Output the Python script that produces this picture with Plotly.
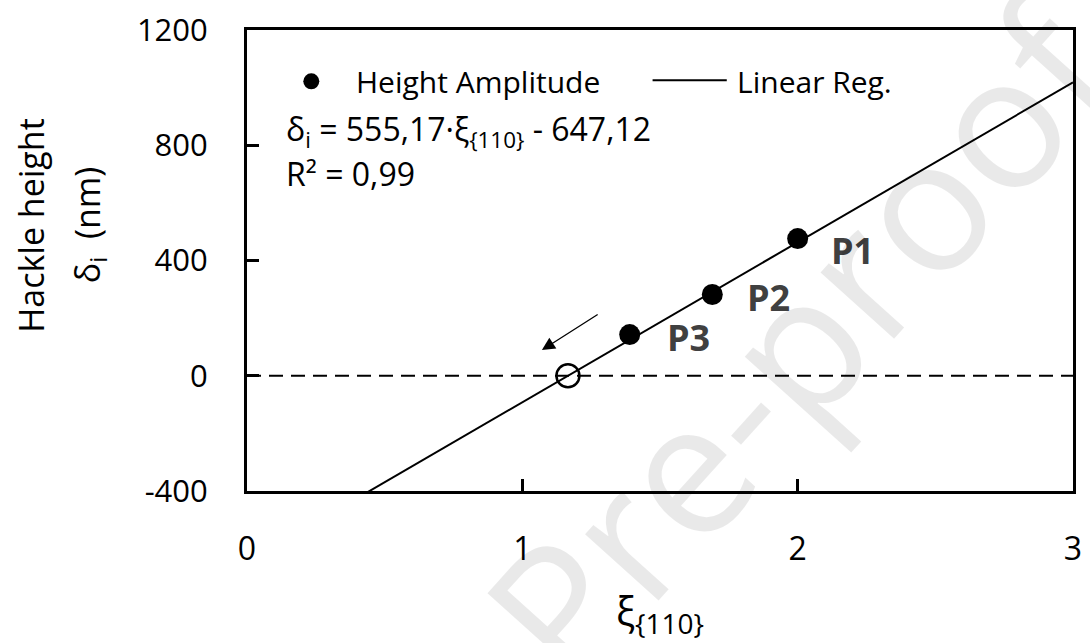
import plotly.graph_objects as go

# ---- data ----
xi_points = [2.0, 1.69, 1.39]          # ξ{110}
height_points = [476, 282, 143]        # δi (nm)
point_labels = ["P1", "P2", "P3"]
slope = 555.17
intercept = -647.12
r2_text = "0,99"
x_line = [0.0, 3.0]
x_ticks = [0, 1, 2, 3]
y_ticks = [-400, 0, 400, 800, 1200]
y_tick_text = ["-400", "0", "400", "800", "1200"]

FONT = "Open Sans, DejaVu Sans, sans-serif"

y_line = [slope * x + intercept for x in x_line]
x_zero = -intercept / slope

fig = go.Figure()

# zero reference (dashed)
fig.add_trace(go.Scatter(x=x_line, y=[0, 0], mode="lines",
                         line=dict(color="black", width=2, dash="14px,8px"),
                         showlegend=False, hoverinfo="skip"))
# linear regression
fig.add_trace(go.Scatter(x=x_line, y=y_line, mode="lines", name="Linear Reg.",
                         line=dict(color="black", width=2), showlegend=False))
# extrapolated zero-height point
fig.add_trace(go.Scatter(x=[x_zero], y=[0], mode="markers",
                         marker=dict(symbol="circle-open", size=23, color="black",
                                     line=dict(width=2.5, color="black")),
                         showlegend=False))
# measured points
fig.add_trace(go.Scatter(x=xi_points, y=height_points, mode="markers",
                         name="Height Amplitude",
                         marker=dict(symbol="circle", size=21, color="black"),
                         showlegend=False))

annotations = []
# point labels
label_shift = [(55, -12), (56, -3), (59, -3)]
for xv, yv, lab, (dx, dy) in zip(xi_points, height_points, point_labels, label_shift):
    annotations.append(dict(x=xv, y=yv, xref="x", yref="y", text=f"<b>{lab}</b>",
                            showarrow=False, xshift=dx, yshift=dy,
                            font=dict(family=FONT, size=36, color="#404040")))

# arrow
annotations.append(dict(x=1.071, y=89, ax=1.279, ay=216, xref="x", yref="y",
                        axref="x", ayref="y", text="", showarrow=True,
                        arrowhead=2, arrowsize=2.0, arrowwidth=1.3, arrowcolor="black"))

# legend & equation text (paper coords)
def px(xp):
    return (xp - 247) / 835

def py(yp):
    return (491 - yp) / 467

eq_text = (f"δ<sub>i</sub> = {slope:.2f}".replace(".", ",") + "·ξ<sub>{110}</sub> - "
           + f"{-intercept:.2f}".replace(".", ","))

annotations += [
    dict(x=px(355), y=py(76), xref="paper", yref="paper", xanchor="left", yanchor="middle",
         text="Height Amplitude", showarrow=False, font=dict(family=FONT, size=30, color="black")),
    dict(x=px(740), y=py(76), xref="paper", yref="paper", xanchor="left", yanchor="middle",
         text="Linear Reg.", showarrow=False, font=dict(family=FONT, size=30, color="black")),
    dict(x=px(284), y=py(126), xref="paper", yref="paper", xanchor="left", yanchor="middle",
         text=eq_text, showarrow=False, font=dict(family=FONT, size=32, color="black")),
    dict(x=px(284), y=py(169), xref="paper", yref="paper", xanchor="left", yanchor="middle",
         text=f"R² = {r2_text}", showarrow=False, font=dict(family=FONT, size=32, color="black")),
    # axis titles
    dict(x=px(29), y=py(222), xref="paper", yref="paper", xanchor="center", yanchor="middle",
         text="Hackle height", textangle=-90, showarrow=False,
         font=dict(family=FONT, size=34, color="black")),
    dict(x=px(88), y=py(222), xref="paper", yref="paper", xanchor="center", yanchor="middle",
         text="δ<sub>i</sub>  (nm)", textangle=-90, showarrow=False,
         font=dict(family=FONT, size=34, color="black")),
    dict(x=0.5, y=py(614), xref="paper", yref="paper", xanchor="center", yanchor="middle",
         text="ξ<sub>{110}</sub>", showarrow=False,
         font=dict(family=FONT, size=40, color="black")),
    # watermark
    dict(x=px(805), y=py(335), xref="paper", yref="paper", xanchor="center", yanchor="middle",
         text="Pre-proof", textangle=-48, showarrow=False,
         font=dict(family=FONT, size=185, color="rgba(0,0,0,0.085)")),
]

shapes = [
    dict(type="circle", xref="paper", yref="paper", xsizemode="pixel", ysizemode="pixel",
         xanchor=px(312), yanchor=py(76), x0=-8, x1=8, y0=-8, y1=8,
         fillcolor="black", line=dict(color="black", width=0)),
    dict(type="line", xref="paper", yref="paper", x0=px(657), x1=px(732),
         y0=py(75), y1=py(75), line=dict(color="black", width=2)),
]

fig.update_layout(
    width=1090, height=643,
    margin=dict(l=247, r=8, t=24, b=152),
    paper_bgcolor="white", plot_bgcolor="white",
    font=dict(family=FONT, color="black"),
    annotations=annotations, shapes=shapes, showlegend=False,
)
fig.update_xaxes(range=[0, 3], tickvals=x_ticks, ticks="inside", ticklen=12, tickwidth=2.5,
                 tickcolor="black", showline=True, linewidth=3, linecolor="black", mirror=True,
                 showgrid=False, zeroline=False, tickfont=dict(family=FONT, size=32),
                 ticklabelstandoff=28)
fig.update_yaxes(range=[-400, 1200], tickvals=y_ticks, ticktext=y_tick_text, ticks="inside",
                 ticklen=12, tickwidth=2.5,
                 tickcolor="black", showline=True, linewidth=3, linecolor="black", mirror=True,
                 showgrid=False, zeroline=False, tickfont=dict(family=FONT, size=31),
                 ticklabelstandoff=30)

fig.write_html("out.html")
